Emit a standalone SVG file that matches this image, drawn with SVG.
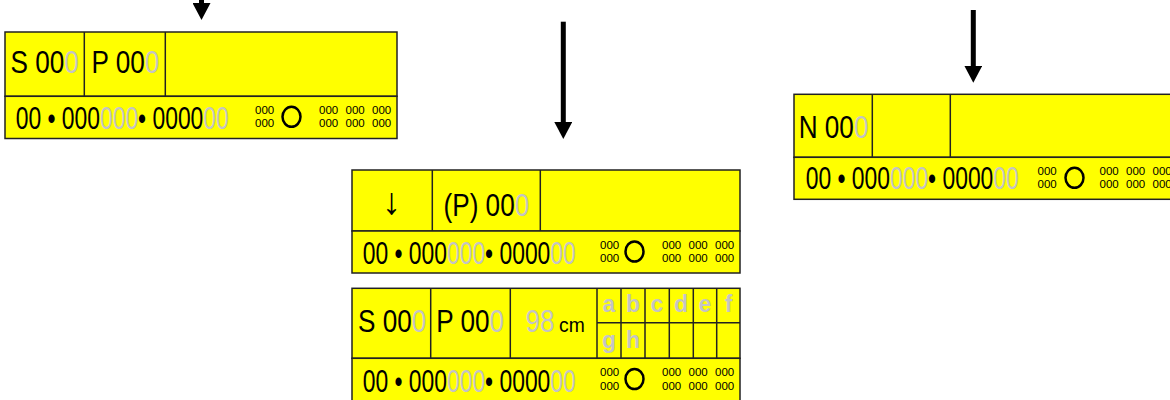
<svg xmlns="http://www.w3.org/2000/svg" width="1170" height="400" viewBox="0 0 1170 400">
<style>
.box{fill:#ffff00;stroke:#222;stroke-width:1.5}
.ln{stroke:#222;stroke-width:1.5;fill:none}
.t{font-family:"Liberation Sans",Arial,sans-serif;fill:#000}
.big{font-size:31.5px}
.bot{font-size:30.5px}
.sm{font-size:11.5px}
.g{fill:#c4c4c4}
.lt{font-size:23px;font-weight:bold;fill:#c4c4c4;text-anchor:middle}
.circ{fill:none;stroke:#000;stroke-width:2.5}
.arr{stroke:#000;stroke-width:5;fill:none}
</style>
<defs>
<marker id="ah" markerUnits="userSpaceOnUse" markerWidth="18" markerHeight="18" refX="9" refY="9" orient="auto">
<path d="M0,0 L17,9 L0,18 Z" fill="#000"/>
</marker>
</defs>

<g id="connectors">
<line class="arr" x1="201.5" y1="-2" x2="201.5" y2="12" marker-end="url(#ah)"/>
<line class="arr" x1="563.3" y1="21.7" x2="563.3" y2="131" marker-end="url(#ah)"/>
<line class="arr" x1="973.3" y1="10" x2="973.3" y2="74.7" marker-end="url(#ah)"/>
</g>

<g id="block1">
<rect class="box" x="5" y="32" width="392" height="64.3"/>
<rect class="box" x="5" y="96.3" width="392" height="42.2"/>
<line class="ln" x1="84.3" y1="32" x2="84.3" y2="96.3"/>
<line class="ln" x1="165.3" y1="32" x2="165.3" y2="96.3"/>
<text class="t big" transform="translate(10.5,73.3) scale(0.83,1)">S 00<tspan class="g">0</tspan></text>
<text class="t big" transform="translate(91.5,73.3) scale(0.83,1)">P 00<tspan class="g">0</tspan></text>
<text class="t bot" transform="translate(15.7,129) scale(0.75,1)">00 • 000<tspan class="g">000</tspan>• 0000<tspan class="g">00</tspan></text>
<text class="t sm" x="255" y="113.8">000</text>
<text class="t sm" x="255" y="127.3">000</text>
<ellipse class="circ" cx="291.5" cy="116.8" rx="9" ry="10"/>
<text class="t sm" x="319" y="113.8">000</text>
<text class="t sm" x="345.5" y="113.8">000</text>
<text class="t sm" x="372" y="113.8">000</text>
<text class="t sm" x="319" y="127.3">000</text>
<text class="t sm" x="345.5" y="127.3">000</text>
<text class="t sm" x="372" y="127.3">000</text>
</g>

<g id="block2">
<rect class="box" x="352" y="170" width="388" height="61"/>
<rect class="box" x="352" y="231" width="388" height="42"/>
<line class="ln" x1="432.3" y1="170" x2="432.3" y2="231"/>
<line class="ln" x1="540.3" y1="170" x2="540.3" y2="231"/>
<text class="t" font-size="37.5" x="391.7" y="214.2" text-anchor="middle">↓</text>
<text class="t big" transform="translate(443.5,216.3) scale(0.83,1)">(P) 00<tspan class="g">0</tspan></text>
<text class="t bot" transform="translate(362.7,263.7) scale(0.75,1)">00 • 000<tspan class="g">000</tspan>• 0000<tspan class="g">00</tspan></text>
<text class="t sm" x="600" y="248.5">000</text>
<text class="t sm" x="600" y="262">000</text>
<ellipse class="circ" cx="634.5" cy="251.5" rx="9" ry="10"/>
<text class="t sm" x="662" y="248.5">000</text>
<text class="t sm" x="688.5" y="248.5">000</text>
<text class="t sm" x="715" y="248.5">000</text>
<text class="t sm" x="662" y="262">000</text>
<text class="t sm" x="688.5" y="262">000</text>
<text class="t sm" x="715" y="262">000</text>
</g>

<g id="block3">
<rect class="box" x="352" y="288.3" width="388" height="70"/>
<rect class="box" x="352" y="358.3" width="388" height="44"/>
<line class="ln" x1="430.7" y1="288.3" x2="430.7" y2="358.3"/>
<line class="ln" x1="510.3" y1="288.3" x2="510.3" y2="358.3"/>
<line class="ln" x1="597" y1="288.3" x2="597" y2="358.3"/>
<line class="ln" x1="621" y1="288.3" x2="621" y2="358.3"/>
<line class="ln" x1="645" y1="288.3" x2="645" y2="358.3"/>
<line class="ln" x1="669.3" y1="288.3" x2="669.3" y2="358.3"/>
<line class="ln" x1="693.3" y1="288.3" x2="693.3" y2="358.3"/>
<line class="ln" x1="716.7" y1="288.3" x2="716.7" y2="358.3"/>
<line class="ln" x1="597" y1="322.7" x2="740" y2="322.7"/>
<text class="t big" transform="translate(358,332.3) scale(0.83,1)">S 00<tspan class="g">0</tspan></text>
<text class="t big" transform="translate(436.3,332.3) scale(0.83,1)">P 00<tspan class="g">0</tspan></text>
<text class="t big g" transform="translate(525.5,332.3) scale(0.83,1)">98</text>
<text class="t" font-size="21" transform="translate(559,332.3) scale(0.92,1)">cm</text>
<text class="t lt" x="609" y="312.3">a</text>
<text class="t lt" x="633" y="312.3">b</text>
<text class="t lt" x="657" y="312.3">c</text>
<text class="t lt" x="681" y="312.3">d</text>
<text class="t lt" x="705" y="312.3">e</text>
<text class="t lt" x="728.5" y="312.3">f</text>
<text class="t lt" x="609" y="348.3">g</text>
<text class="t lt" x="633" y="348.3">h</text>
<text class="t bot" transform="translate(362.7,391.7) scale(0.75,1)">00 • 000<tspan class="g">000</tspan>• 0000<tspan class="g">00</tspan></text>
<text class="t sm" x="600" y="376">000</text>
<text class="t sm" x="600" y="389.5">000</text>
<ellipse class="circ" cx="634.5" cy="379" rx="9" ry="10"/>
<text class="t sm" x="662" y="376">000</text>
<text class="t sm" x="688.5" y="376">000</text>
<text class="t sm" x="715" y="376">000</text>
<text class="t sm" x="662" y="389.5">000</text>
<text class="t sm" x="688.5" y="389.5">000</text>
<text class="t sm" x="715" y="389.5">000</text>
</g>

<g id="block4">
<rect class="box" x="794" y="94.3" width="385" height="63"/>
<rect class="box" x="794" y="157.3" width="385" height="42"/>
<line class="ln" x1="872.3" y1="94.3" x2="872.3" y2="157.3"/>
<line class="ln" x1="950.3" y1="94.3" x2="950.3" y2="157.3"/>
<text class="t big" transform="translate(798.7,137.7) scale(0.83,1)">N 00<tspan class="g">0</tspan></text>
<text class="t bot" transform="translate(805.7,189.3) scale(0.75,1)">00 • 000<tspan class="g">000</tspan>• 0000<tspan class="g">00</tspan></text>
<text class="t sm" x="1037.5" y="174.8">000</text>
<text class="t sm" x="1037.5" y="188.3">000</text>
<ellipse class="circ" cx="1074.5" cy="177.8" rx="9" ry="10"/>
<text class="t sm" x="1099.5" y="174.8">000</text>
<text class="t sm" x="1126" y="174.8">000</text>
<text class="t sm" x="1152.5" y="174.8">000</text>
<text class="t sm" x="1099.5" y="188.3">000</text>
<text class="t sm" x="1126" y="188.3">000</text>
<text class="t sm" x="1152.5" y="188.3">000</text>
</g>
</svg>
